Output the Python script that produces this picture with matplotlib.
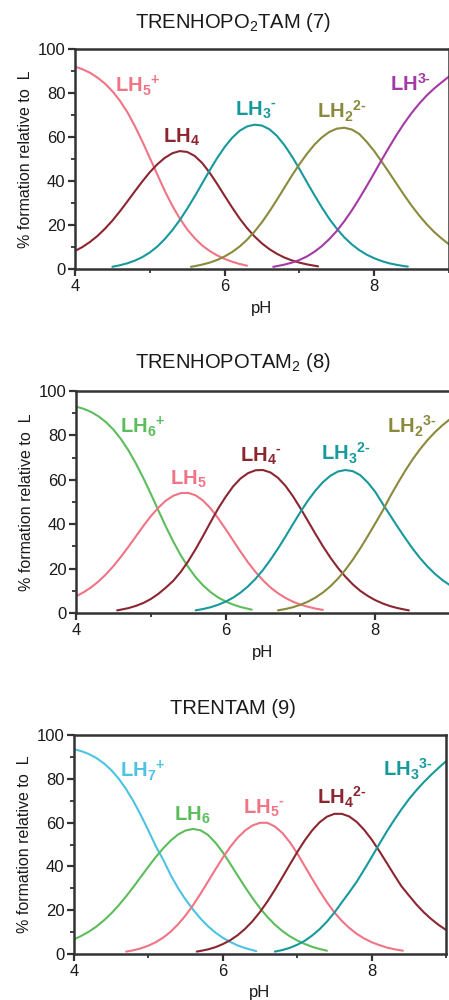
import numpy as np
import matplotlib
matplotlib.use("Agg")
import matplotlib.pyplot as plt
from matplotlib.ticker import MultipleLocator

plt.rcParams['font.family'] = ['Liberation Sans', 'DejaVu Sans']
plt.rcParams['mathtext.fontset'] = 'custom'
plt.rcParams['mathtext.rm'] = 'Liberation Sans'
plt.rcParams['mathtext.bf'] = 'Liberation Sans:bold'
plt.rcParams['mathtext.it'] = 'Liberation Sans:italic'

# ---------------- Data ----------------
# Panel 1: TRENHOPO2TAM (7)
p1_lh5_ph = [4.0, 4.1, 4.2, 4.3, 4.4, 4.5, 4.6, 4.7, 4.8, 4.9, 5.0, 5.1, 5.2, 5.3, 5.4, 5.5, 5.6, 5.7, 5.8, 5.9, 6.0, 6.1, 6.2, 6.3]
p1_lh5_y  = [92, 90.8, 89.2, 87, 84.3, 80.8, 76.5, 71.3, 65, 58, 50.5, 43, 35.5, 28.8, 23, 18, 14, 10.7, 8.2, 6.2, 4.6, 3.3, 2.3, 1.5]
p1_lh4_ph = [4.0, 4.1, 4.2, 4.3, 4.4, 4.5, 4.6, 4.7, 4.8, 4.9, 5.0, 5.1, 5.2, 5.3, 5.4, 5.5, 5.6, 5.7, 5.8, 5.9, 6.0, 6.1, 6.2, 6.3, 6.4, 6.5, 6.6, 6.7, 6.8, 6.9, 7.0, 7.1, 7.2, 7.25]
p1_lh4_y  = [8.2, 10, 12.3, 15, 18.3, 22, 26.2, 30.7, 35.3, 39.8, 44, 47.6, 50.5, 52.6, 53.6, 53.2, 51.4, 48.2, 43.8, 38.7, 33.3, 28, 23, 18.6, 14.8, 11.6, 9, 6.9, 5.2, 3.9, 2.9, 2.1, 1.5, 1.2]
p1_lh3_ph = [4.5, 4.6, 4.7, 4.8, 4.9, 5.0, 5.1, 5.2, 5.3, 5.4, 5.5, 5.6, 5.7, 5.8, 5.9, 6.0, 6.1, 6.2, 6.3, 6.4, 6.5, 6.6, 6.7, 6.8, 6.9, 7.0, 7.1, 7.2, 7.3, 7.4, 7.5, 7.6, 7.7, 7.8, 7.9, 8.0, 8.1, 8.2, 8.3, 8.4, 8.45]
p1_lh3_y  = [1, 1.7, 2.6, 3.8, 5.4, 7.5, 10.2, 13.6, 17.6, 22.2, 27.4, 33, 38.9, 44.8, 50.4, 55.4, 59.6, 62.8, 64.8, 65.6, 65.2, 63.5, 60.5, 56.3, 51.2, 45.5, 39.5, 33.6, 28, 22.8, 18.3, 14.4, 11.2, 8.6, 6.5, 4.9, 3.6, 2.6, 1.9, 1.3, 1.1]
p1_lh2_ph = [5.55, 5.6, 5.7, 5.8, 5.9, 6.0, 6.1, 6.2, 6.3, 6.4, 6.5, 6.6, 6.7, 6.8, 6.9, 7.0, 7.1, 7.2, 7.3, 7.4, 7.5, 7.6, 7.7, 7.8, 7.9, 8.0, 8.1, 8.2, 8.3, 8.4, 8.5, 8.6, 8.7, 8.8, 8.9, 9.0]
p1_lh2_y  = [1, 1.3, 2, 2.9, 4.1, 5.7, 7.7, 10.2, 13.3, 17, 21.3, 26.2, 31.5, 37, 42.5, 47.6, 52.3, 56.5, 59.8, 62.3, 63.8, 64.2, 63.4, 61.4, 57.8, 53.6, 48.8, 43.8, 38.7, 33.6, 28.8, 24.4, 20.4, 16.9, 13.9, 11.2]
p1_lh_ph  = [6.65, 6.7, 6.8, 6.9, 7.0, 7.1, 7.2, 7.3, 7.4, 7.5, 7.6, 7.7, 7.8, 7.9, 8.0, 8.1, 8.2, 8.3, 8.4, 8.5, 8.6, 8.7, 8.8, 8.9, 9.0]
p1_lh_y   = [1, 1.3, 2, 2.9, 4.1, 5.7, 7.8, 10.4, 13.6, 17.3, 21.7, 26.6, 32, 37.7, 43.6, 49.6, 55.4, 61, 66.2, 70.9, 75.1, 78.8, 82, 84.8, 87.5]

# Panel 2: TRENHOPOTAM2 (8)
p2_lh6_ph = [4.0, 4.1, 4.2, 4.3, 4.4, 4.5, 4.6, 4.7, 4.8, 4.9, 5.0, 5.1, 5.2, 5.3, 5.4, 5.5, 5.6, 5.7, 5.8, 5.9, 6.0, 6.1, 6.2, 6.3, 6.35]
p2_lh6_y  = [93, 92, 90.6, 88.6, 86, 82.6, 78.4, 73.3, 67.4, 60.8, 53.7, 46.3, 39, 32.2, 26, 20.7, 16.1, 12.4, 9.4, 7, 5.2, 3.8, 2.7, 1.9, 1.5]
p2_lh5_ph = [4.0, 4.1, 4.2, 4.3, 4.4, 4.5, 4.6, 4.7, 4.8, 4.9, 5.0, 5.1, 5.2, 5.3, 5.4, 5.5, 5.6, 5.7, 5.8, 5.9, 6.0, 6.1, 6.2, 6.3, 6.4, 6.5, 6.6, 6.7, 6.8, 6.9, 7.0, 7.1, 7.2, 7.3]
p2_lh5_y  = [7.5, 9.3, 11.5, 14.2, 17.4, 21.1, 25.3, 29.8, 34.5, 39.2, 43.6, 47.4, 50.6, 52.8, 54, 54.1, 53, 50.6, 47.1, 42.7, 37.8, 32.7, 27.6, 22.8, 18.5, 14.7, 11.5, 8.9, 6.8, 5.1, 3.8, 2.8, 2, 1.4]
p2_lh4_ph = [4.55, 4.6, 4.7, 4.8, 4.9, 5.0, 5.1, 5.2, 5.3, 5.4, 5.5, 5.6, 5.7, 5.8, 5.9, 6.0, 6.1, 6.2, 6.3, 6.4, 6.5, 6.6, 6.7, 6.8, 6.9, 7.0, 7.1, 7.2, 7.3, 7.4, 7.5, 7.6, 7.7, 7.8, 7.9, 8.0, 8.1, 8.2, 8.3, 8.4, 8.45]
p2_lh4_y  = [1.2, 1.5, 2.2, 3.2, 4.5, 6.3, 8.6, 11.4, 14.5, 18.5, 23.3, 28.8, 34.8, 41, 47, 52.3, 57, 60.6, 63, 64.3, 64.4, 63.3, 60.9, 57.3, 52.6, 47.2, 41.5, 35.7, 30.1, 25, 20.4, 16.4, 12.9, 10, 7.7, 5.8, 4.3, 3.1, 2.2, 1.5, 1.2]
p2_lh3_ph = [5.6, 5.7, 5.8, 5.9, 6.0, 6.1, 6.2, 6.3, 6.4, 6.5, 6.6, 6.7, 6.8, 6.9, 7.0, 7.1, 7.2, 7.3, 7.4, 7.5, 7.6, 7.7, 7.8, 7.9, 8.0, 8.1, 8.2, 8.3, 8.4, 8.5, 8.6, 8.7, 8.8, 8.9, 9.0]
p2_lh3_y  = [1.2, 1.8, 2.6, 3.7, 5.1, 6.9, 9.2, 12, 15.4, 19.4, 24, 29, 34.4, 40, 45.5, 50.6, 55.1, 58.9, 61.8, 63.7, 64.4, 63.9, 62.1, 58.8, 54.6, 49.2, 44, 38.8, 33.8, 29, 24.7, 20.9, 17.6, 14.8, 12.5]
p2_lh2_ph = [6.7, 6.8, 6.9, 7.0, 7.1, 7.2, 7.3, 7.4, 7.5, 7.6, 7.7, 7.8, 7.9, 8.0, 8.1, 8.2, 8.3, 8.4, 8.5, 8.6, 8.7, 8.8, 8.9, 9.0]
p2_lh2_y  = [1.2, 1.8, 2.6, 3.7, 5.1, 6.9, 9.2, 12, 15.4, 19.4, 24, 29.1, 34.6, 40.3, 46.1, 52.5, 58.4, 64, 69.2, 73.8, 77.9, 81.5, 84.6, 87.3]

# Panel 3: TRENTAM (9)
p3_lh7_ph = [4.0, 4.1, 4.2, 4.3, 4.4, 4.5, 4.6, 4.7, 4.8, 4.9, 5.0, 5.1, 5.2, 5.3, 5.4, 5.5, 5.6, 5.7, 5.8, 5.9, 6.0, 6.1, 6.2, 6.3, 6.45]
p3_lh7_y  = [93.5, 92.6, 91.3, 89.5, 87.1, 84, 80.1, 75.3, 69.7, 63.3, 56.4, 49.2, 43, 36, 30, 24.8, 20.3, 16.2, 12.7, 9.8, 7.4, 5.5, 3.9, 2.7, 1.3]
p3_lh6_ph = [4.0, 4.1, 4.2, 4.3, 4.4, 4.5, 4.6, 4.7, 4.8, 4.9, 5.0, 5.1, 5.2, 5.3, 5.4, 5.5, 5.6, 5.7, 5.8, 5.9, 6.0, 6.1, 6.2, 6.3, 6.4, 6.5, 6.6, 6.7, 6.8, 6.9, 7.0, 7.1, 7.2, 7.3, 7.4]
p3_lh6_y  = [6.7, 8.3, 10.2, 12.5, 15.3, 18.5, 22.2, 26.3, 30.7, 35.3, 39.9, 44.3, 48.3, 51.8, 54.6, 56.4, 57.1, 56.5, 54.4, 50.9, 46.4, 41.2, 35.8, 30.5, 25.5, 20.9, 16.9, 13.4, 10.5, 8.1, 6.2, 4.6, 3.3, 2.3, 1.5]
p3_lh5_ph = [4.7, 4.8, 4.9, 5.0, 5.1, 5.2, 5.3, 5.4, 5.5, 5.6, 5.7, 5.8, 5.9, 6.0, 6.1, 6.2, 6.3, 6.4, 6.5, 6.6, 6.7, 6.8, 6.9, 7.0, 7.1, 7.2, 7.3, 7.4, 7.5, 7.6, 7.7, 7.8, 7.9, 8.0, 8.1, 8.2, 8.3, 8.42]
p3_lh5_y  = [1.1, 1.7, 2.6, 3.8, 5.4, 7.5, 10.2, 13.6, 17.6, 22.3, 27.5, 33, 38.6, 44, 48.9, 53.1, 56.4, 58.7, 59.9, 59.9, 58.2, 55.3, 51.1, 46, 40.2, 34.4, 28.8, 23.6, 19, 15.1, 11.9, 9.2, 7.1, 5.4, 4.1, 3, 2.2, 1.5]
p3_lh4_ph = [5.65, 5.7, 5.8, 5.9, 6.0, 6.1, 6.2, 6.3, 6.4, 6.5, 6.6, 6.7, 6.8, 6.9, 7.0, 7.1, 7.2, 7.3, 7.4, 7.5, 7.6, 7.7, 7.8, 7.9, 8.0, 8.1, 8.2, 8.3, 8.4, 8.5, 8.6, 8.7, 8.8, 8.9, 9.0]
p3_lh4_y  = [1.1, 1.4, 2.1, 3.1, 4.5, 6.3, 8.6, 11.5, 15, 19.2, 24, 29.3, 35, 40.8, 46.5, 51.8, 56.4, 60.1, 62.7, 64, 64, 62.8, 60.3, 56.7, 52.3, 47.2, 41.8, 36.3, 31, 26.8, 22.7, 19.1, 16, 13.3, 11]
p3_lh3_ph = [6.7, 6.8, 6.9, 7.0, 7.1, 7.2, 7.3, 7.4, 7.5, 7.6, 7.7, 7.8, 7.9, 8.0, 8.1, 8.2, 8.3, 8.4, 8.5, 8.6, 8.7, 8.8, 8.9, 9.0]
p3_lh3_y  = [1.1, 1.8, 2.8, 4.2, 6, 8.4, 11.3, 14.8, 18.9, 23.6, 28.2, 33, 38.5, 44.2, 50, 55.7, 61, 66, 70.6, 74.7, 78.4, 81.8, 85, 88]

titles = ["TRENHOPO$\\mathrm{_2}$TAM (7)", "TRENHOPOTAM$\\mathrm{_2}$ (8)", "TRENTAM (9)"]

PINK = "#f07484"
DRED = "#8b2630"
TEAL = "#17999b"
OLIVE = "#8a8a3c"
PURP = "#a33aa6"
GREEN = "#5cbd5c"
LBLUE = "#4cc3e2"

H = "\u2010"  # short hyphen for charges

def lab(sub, sup):
    s = "LH"
    if sub and sup:
        s += r"$_\mathbf{%s}{}^\mathbf{%s}$" % (sub, sup)
    elif sub:
        s += r"$_\mathbf{%s}$" % sub
    elif sup:
        s += r"$^\mathbf{%s}$" % sup
    return s

panels = [
    [(p1_lh5_ph, p1_lh5_y, PINK, lab("5", "+"), 4.535, 80.5),
     (p1_lh4_ph, p1_lh4_y, DRED, lab("4", ""), 5.18, 57.4),
     (p1_lh3_ph, p1_lh3_y, TEAL, lab("3", H), 6.14, 69.9),
     (p1_lh2_ph, p1_lh2_y, OLIVE, lab("2", "2" + H), 7.23, 68.4),
     (p1_lh_ph, p1_lh_y, PURP, lab("", "3" + H), 8.21, 81.0)],
    [(p2_lh6_ph, p2_lh6_y, GREEN, lab("6", "+"), 4.585, 81.2),
     (p2_lh5_ph, p2_lh5_y, PINK, lab("5", ""), 5.25, 58.0),
     (p2_lh4_ph, p2_lh4_y, DRED, lab("4", H), 6.19, 68.1),
     (p2_lh3_ph, p2_lh3_y, TEAL, lab("3", "2" + H), 7.27, 68.6),
     (p2_lh2_ph, p2_lh2_y, OLIVE, lab("2", "3" + H), 8.155, 80.9)],
    [(p3_lh7_ph, p3_lh7_y, LBLUE, lab("7", "+"), 4.62, 80.8),
     (p3_lh6_ph, p3_lh6_y, GREEN, lab("6", ""), 5.345, 61.0),
     (p3_lh5_ph, p3_lh5_y, PINK, lab("5", H), 6.27, 64.0),
     (p3_lh4_ph, p3_lh4_y, DRED, lab("4", "2" + H), 7.26, 68.1),
     (p3_lh3_ph, p3_lh3_y, TEAL, lab("3", "3" + H), 8.15, 81.1)],
]

fig = plt.figure(figsize=(4.49, 10.0), dpi=100)
rects = [
    [75/449, 1-269/1000, 374/449, 220/1000],
    [76/449, 1-613/1000, 374/449, 222/1000],
    [74/449, 1-954/1000, 372/449, 219/1000],
]
title_y = [22, 363, 708]
xlab_y = [308, 652, 992]

for rect, title, series, ty, xy in zip(rects, titles, panels, title_y, xlab_y):
    ax = fig.add_axes(rect)
    for xs, ys, col, text, lx, ly in series:
        ax.plot(xs, ys, color=col, lw=1.5, solid_capstyle='round',
                solid_joinstyle='round')
        ax.text(lx, ly, text, color=col, fontsize=14.5, fontweight='bold',
                ha='left', va='baseline')
    ax.set_xlim(4, 9)
    ax.set_ylim(0, 100)
    ax.xaxis.set_major_locator(MultipleLocator(2))
    ax.xaxis.set_minor_locator(MultipleLocator(1))
    ax.yaxis.set_major_locator(MultipleLocator(20))
    ax.yaxis.set_minor_locator(MultipleLocator(10))
    ax.tick_params(which='major', direction='out', length=5, width=1.6,
                   labelsize=12, pad=2, colors='#333333', labelcolor='#1a1a1a')
    ax.tick_params(which='minor', direction='out', length=3, width=1.3,
                   colors='#333333')
    for s in ax.spines.values():
        s.set_linewidth(1.8)
        s.set_color('#333333')
    ax.set_ylabel("% formation relative to  L", fontsize=11.5, labelpad=3,
                  color='#1a1a1a')
    fig.text((rect[0] + rect[2] / 2), 1 - xy / 1000, "pH", fontsize=12,
             ha='center', va='center', color='#1a1a1a')
    fig.text(233 / 449, 1 - ty / 1000, title, fontsize=14.5,
             ha='center', va='center', color='#1a1a1a')

fig.savefig("out.png", dpi=100)
